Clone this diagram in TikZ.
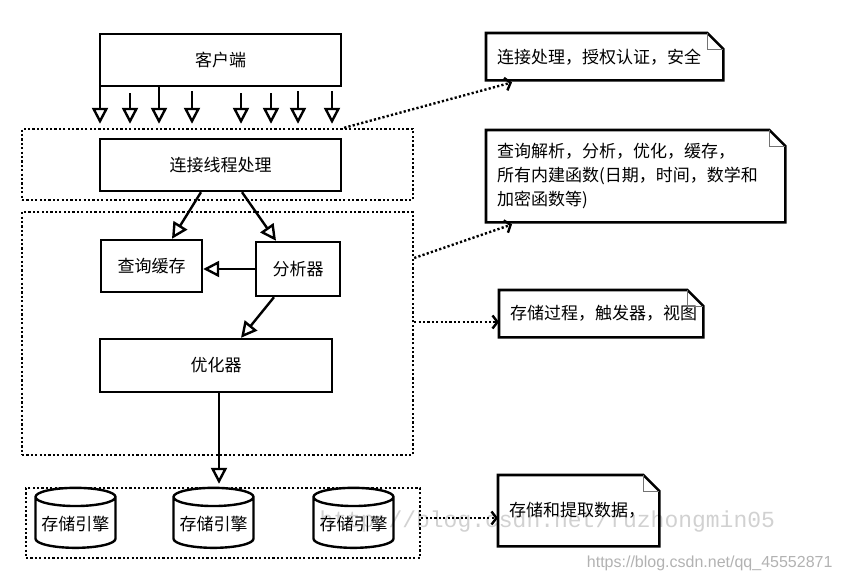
\documentclass[tikz,border=0pt]{standalone}
\usepackage{fontspec}
\setmainfont{Noto Sans CJK SC}
\newfontfamily\wmmono{Liberation Mono}
\newfontfamily\wmsans{Liberation Sans}
\usetikzlibrary{arrows.meta,shapes.geometric}
\pgfdeclarelayer{bg}
\pgfsetlayers{bg,main}

\tikzset{
    box/.style={draw, rectangle, line width=2.4pt, fill=white},
    group/.style={draw, rectangle, line width=2.4pt, dash pattern=on 2.2pt off 2.2pt},
    engine/.style={draw, cylinder, shape border rotate=90, aspect=0.26, line width=2.4pt, minimum width=80pt, minimum height=60pt, inner sep=1pt},
    note/.style={anchor=north west, inner xsep=11pt, inner ysep=0pt, align=left},
    hollow/.style={line width=2.4pt, -{Triangle[open, length=16pt, width=16pt, line width=2.4pt]}},
    link/.style={line width=2.4pt, dash pattern=on 2.2pt off 2.2pt, -{Straight Barb[length=5pt, width=13pt, line width=2.4pt]}}
}

\newcommand{\noteframe}[1]{%
    \draw[line width=2.6pt, line join=miter] (#1.south west) -- (#1.north west) -- ([xshift=-16pt]#1.north east) -- ([yshift=-16pt]#1.north east) -- (#1.south east) -- cycle;
    \draw[line width=0.9pt, black!55] ([xshift=-16pt]#1.north east) |- ([yshift=-16pt]#1.north east);
}

\begin{document}
\begin{tikzpicture}[x=1pt, y=-1pt, font=\fontsize{17}{24}\selectfont]
                \useasboundingbox (0,0) rectangle (841,580);
                \begin{pgfonlayer}{bg}
                    \node[anchor=west, text=black!18, font=\wmmono\fontsize{23}{23}\selectfont] (wmark) at (316,522) {http://blog.csdn.net/fuzhongmin05};
                    \node[anchor=east, text=black!30, font=\wmsans\fontsize{16}{16}\selectfont] (wurl) at (836,563) {https://blog.csdn.net/qq\_45552871};
                \end{pgfonlayer}

                \node[box, minimum width=241pt, minimum height=52pt] (client) at (220.5,60) {客户端};
                \node[group, minimum width=391pt, minimum height=71pt] (conbox) at (217.5,164.5) {};
                \node[box, minimum width=241pt, minimum height=52pt] (conn) at (220.5,165) {连接线程处理};

                \node[group, minimum width=391pt, minimum height=243pt] (qbox) at (217.5,333.5) {};
                \node[box, minimum width=101pt, minimum height=52pt] (cache) at (151.5,266) {查询缓存};
                \node[box, minimum width=84pt, minimum height=54pt] (ana) at (298,269) {分析器};
                \node[box, minimum width=232pt, minimum height=53pt] (opt) at (216,365.5) {优化器};

                \node[group, minimum width=394pt, minimum height=70pt] (store) at (223,523) {};
                \node[engine] (eng1) at (75.5,524) {存储引擎};
                \node[engine] (eng2) at (213.5,524) {存储引擎};
                \node[engine] (eng3) at (353.5,524) {存储引擎};

                \node[note, text width=215pt, minimum height=47pt] (note1) at (486,33) {连接处理，授权认证，安全};
                \node[note, text width=277pt, minimum height=92pt] (note2) at (486,130) {查询解析，分析，优化，缓存，\\所有内建函数(日期，时间，数学和\\加密函数等)};
                \node[note, text width=182pt, minimum height=47pt] (note3) at (499,290) {存储过程，触发器，视图};
                \node[note, text width=139pt, minimum height=71pt] (note4) at (498,475) {存储和提取数据，};
                \noteframe{note1}
                \noteframe{note2}
                \noteframe{note3}
                \noteframe{note4}

                \foreach \x/\gap in {100/0,130/6,159/0,192/4,241/6,271/6,298/4,332/4}
                    \draw[hollow, shorten >=4pt] ([yshift=-\gap pt]client.south -| \x,0) -- (conbox.north -| \x,0);

                \draw[hollow] ([xshift=-19.5pt]conn.south) -- ([xshift=20.5pt]cache.north);
                \draw[hollow] ([xshift=21.5pt]conn.south) -- ([xshift=-22pt]ana.north);
                \draw[hollow] (ana.west) -- (ana.west -| cache.east);
                \draw[hollow] ([xshift=-24pt]ana.south) -- ([xshift=25pt]opt.north);
                \coordinate (down) at ([xshift=3pt]opt.south);
                \draw[hollow, shorten >=3pt] (down) -- (down |- store.north);

                \coordinate (l1) at ([xshift=-70pt]conbox.north east);
                \coordinate (l2) at ([yshift=75.5pt]qbox.east);
                \coordinate (l3) at ([yshift=11.5pt]qbox.east);
                \coordinate (l4) at ([yshift=5pt]store.east);
                \draw[link] (l1) -- ([xshift=26pt,yshift=-2pt]note1.south west);
                \draw[link] (l2) -- ([xshift=26pt,yshift=-2pt]note2.south west);
                \draw[link] (l3) -- (l3 -| note3.west);
                \draw[link] (l4) -- (l4 -| note4.west);
\end{tikzpicture}
\end{document}
